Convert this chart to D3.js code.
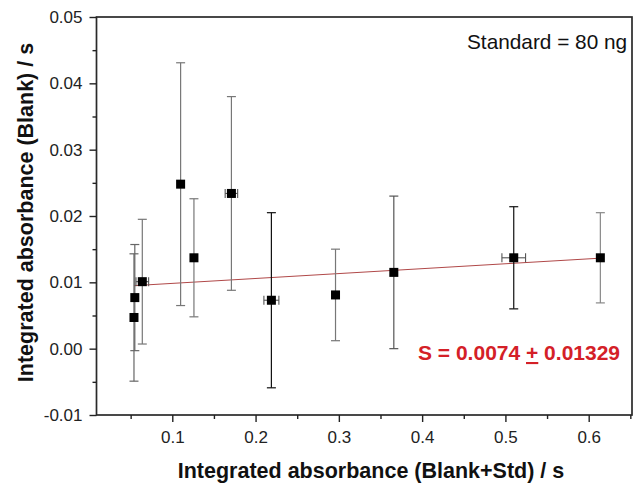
<!DOCTYPE html>
<html>
<head>
<meta charset="utf-8">
<script src="https://cdn.jsdelivr.net/npm/d3@7"></script>
<style>
  body { margin: 0; background: #fff; }
  svg { display: block; font-family: 'Liberation Sans', Arial, sans-serif; }
</style>
</head>
<body>
<div id="chart"></div>
<script>
// Data
const xValues = [0.054, 0.055, 0.064, 0.110, 0.126, 0.171, 0.219, 0.296, 0.366, 0.510, 0.614];
const yValues = [0.0047, 0.0077, 0.0101, 0.0248, 0.0137, 0.0234, 0.0073, 0.0081, 0.0115, 0.0137, 0.0137];
const yErrors = [0.0096, 0.0080, 0.0094, 0.0183, 0.0089, 0.0146, 0.0132, 0.0069, 0.0115, 0.0077, 0.0068];
const xErrors = [0, 0, 0.0076, 0, 0, 0.0075, 0.009, 0, 0, 0.0142, 0];

const xTicks = [0.1, 0.2, 0.3, 0.4, 0.5, 0.6];
const xTickLabels = ['0.1', '0.2', '0.3', '0.4', '0.5', '0.6'];
const xMinorTicks = [0.05, 0.15, 0.25, 0.35, 0.45, 0.55, 0.65];
const yTicks = [-0.01, 0, 0.01, 0.02, 0.03, 0.04, 0.05];
const yTickLabels = ['-0.01', '0.00', '0.01', '0.02', '0.03', '0.04', '0.05'];
const yMinorTicks = [-0.005, 0.005, 0.015, 0.025, 0.035, 0.045];

// linear fit shown on the figure
const fitSlope = 0.0074;
const fitIntercept = 0.0091;

// error bar shades (some bars are darker in the original)
const barColors = ['#666', '#666', '#777', '#777', '#777', '#777', '#111', '#777', '#555', '#111', '#888'];

const width = 635;
const height = 490;
const margin = { top: 17, right: 3, bottom: 75, left: 96.5 };

const svg = d3.select('#chart')
  .append('svg')
  .attr('width', width)
  .attr('height', height);

const x = d3.scaleLinear()
  .domain([0.009, 0.652])
  .range([margin.left, width - margin.right]);

const y = d3.scaleLinear()
  .domain([-0.01, 0.05])
  .range([height - margin.bottom, margin.top]);

const data = xValues.map((d, i) => ({
  x: d, y: yValues[i], ex: xErrors[i], ey: yErrors[i], c: barColors[i]
}));

// Frame
svg.append('rect')
  .attr('x', x.range()[0])
  .attr('y', y.range()[1])
  .attr('width', x.range()[1] - x.range()[0])
  .attr('height', y.range()[0] - y.range()[1])
  .attr('fill', 'none')
  .attr('stroke', '#2a2a2a')
  .attr('stroke-width', 1.7);

// Axes
svg.append('g')
  .attr('transform', `translate(0,${y.range()[0]})`)
  .call(d3.axisBottom(x).tickValues(xTicks).tickSize(7).tickPadding(9)
    .tickFormat((d, i) => xTickLabels[i]));
svg.append('g')
  .attr('transform', `translate(0,${y.range()[0]})`)
  .call(d3.axisBottom(x).tickValues(xMinorTicks).tickSize(4).tickFormat(''));

svg.append('g')
  .attr('transform', `translate(${x.range()[0]},0)`)
  .call(d3.axisLeft(y).tickValues(yTicks).tickSize(7).tickPadding(7)
    .tickFormat((d, i) => yTickLabels[i]));
svg.append('g')
  .attr('transform', `translate(${x.range()[0]},0)`)
  .call(d3.axisLeft(y).tickValues(yMinorTicks).tickSize(4).tickFormat(''));

svg.selectAll('.domain').remove();
svg.selectAll('.tick line').attr('stroke', '#222').attr('stroke-width', 1.4);
svg.selectAll('.tick text')
  .attr('fill', '#222')
  .style('font-size', '17px')
  .style('font-family', "'Liberation Sans', Arial, sans-serif");

// Axis titles
svg.append('text')
  .attr('x', 371)
  .attr('y', 478)
  .attr('text-anchor', 'middle')
  .attr('font-weight', 'bold')
  .attr('font-size', 21.5)
  .attr('fill', '#111')
  .text('Integrated absorbance (Blank+Std) / s');

svg.append('text')
  .attr('transform', 'translate(32.5,212.5) rotate(-90)')
  .attr('text-anchor', 'middle')
  .attr('font-weight', 'bold')
  .attr('font-size', 21.5)
  .attr('fill', '#111')
  .text('Integrated absorbance (Blank) / s');

// Fit line over the data range
const fitX = d3.extent(xValues);
svg.append('line')
  .attr('x1', x(fitX[0]))
  .attr('y1', y(fitIntercept + fitSlope * fitX[0]))
  .attr('x2', x(fitX[1]))
  .attr('y2', y(fitIntercept + fitSlope * fitX[1]))
  .attr('stroke', '#b04848')
  .attr('stroke-width', 1);

// Vertical error bars
const cap = 4.5;
const vbars = svg.selectAll('.vbar')
  .data(data)
  .enter()
  .append('g')
  .attr('class', 'vbar')
  .attr('stroke', (d) => d.c)
  .attr('stroke-width', 1.2);

vbars.append('line')
  .attr('x1', (d) => x(d.x)).attr('x2', (d) => x(d.x))
  .attr('y1', (d) => y(d.y + d.ey)).attr('y2', (d) => y(d.y - d.ey));
vbars.append('line')
  .attr('x1', (d) => x(d.x) - cap).attr('x2', (d) => x(d.x) + cap)
  .attr('y1', (d) => y(d.y + d.ey)).attr('y2', (d) => y(d.y + d.ey));
vbars.append('line')
  .attr('x1', (d) => x(d.x) - cap).attr('x2', (d) => x(d.x) + cap)
  .attr('y1', (d) => y(d.y - d.ey)).attr('y2', (d) => y(d.y - d.ey));

// Horizontal error bars (only where visible)
const hbars = svg.selectAll('.hbar')
  .data(data.filter((d) => d.ex > 0))
  .enter()
  .append('g')
  .attr('class', 'hbar')
  .attr('stroke', '#555')
  .attr('stroke-width', 1.1);

hbars.append('line')
  .attr('x1', (d) => x(d.x - d.ex)).attr('x2', (d) => x(d.x + d.ex))
  .attr('y1', (d) => y(d.y)).attr('y2', (d) => y(d.y));
hbars.append('line')
  .attr('x1', (d) => x(d.x - d.ex)).attr('x2', (d) => x(d.x - d.ex))
  .attr('y1', (d) => y(d.y) - cap).attr('y2', (d) => y(d.y) + cap);
hbars.append('line')
  .attr('x1', (d) => x(d.x + d.ex)).attr('x2', (d) => x(d.x + d.ex))
  .attr('y1', (d) => y(d.y) - cap).attr('y2', (d) => y(d.y) + cap);

// Points
const size = 9;
svg.selectAll('.pt')
  .data(data)
  .enter()
  .append('rect')
  .attr('class', 'pt')
  .attr('x', (d) => x(d.x) - size / 2)
  .attr('y', (d) => y(d.y) - size / 2)
  .attr('width', size)
  .attr('height', size)
  .attr('fill', '#000');

// Annotations
svg.append('text')
  .attr('x', 467)
  .attr('y', 48.5)
  .attr('font-size', 20.8)
  .attr('fill', '#111')
  .text('Standard = 80 ng');

const eq = svg.append('text')
  .attr('x', 418)
  .attr('y', 360)
  .attr('font-size', 21)
  .attr('font-weight', 'bold')
  .attr('fill', '#d42027');
eq.append('tspan').text('S = 0.0074 ');
eq.append('tspan').style('text-decoration', 'underline').text('+');
eq.append('tspan').text(' 0.01329');
</script>
</body>
</html>
